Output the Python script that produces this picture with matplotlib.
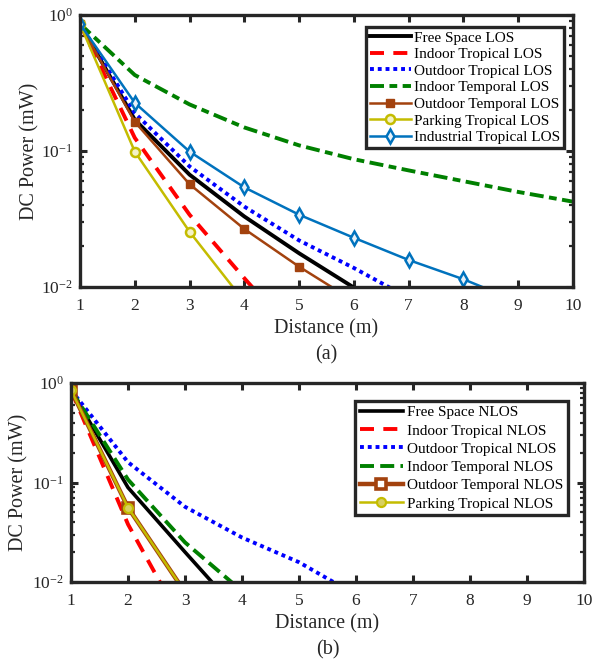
import matplotlib
matplotlib.use("Agg")
import matplotlib.pyplot as plt
from matplotlib.ticker import LogLocator, FixedLocator, NullFormatter

plt.rcParams['font.family'] = ['Liberation Serif', 'DejaVu Serif']
plt.rcParams['mathtext.fontset'] = 'custom'
plt.rcParams['mathtext.rm'] = 'Liberation Serif'
plt.rcParams['mathtext.it'] = 'Liberation Serif:italic'

# ---------------- data: panel (a) LOS ----------------
free_space_los_x = [1, 2, 3, 4, 5, 6, 7]
free_space_los = [0.86, 0.17, 0.067, 0.033, 0.0177, 0.0099, 0.0058]
indoor_trop_los_x = [1, 2, 3, 4, 5]
indoor_trop_los = [0.86, 0.125, 0.034, 0.0116, 0.0041]
outdoor_trop_los_x = [1, 2, 3, 4, 5, 6, 7]
outdoor_trop_los = [0.86, 0.19, 0.077, 0.039, 0.022, 0.0138, 0.0083]
indoor_temp_los_x = [1, 2, 3, 4, 5, 6, 7, 8, 9, 10]
indoor_temp_los = [0.86, 0.362, 0.22, 0.149, 0.11, 0.087, 0.072, 0.060, 0.050, 0.0424]
outdoor_temp_los_x = [1, 2, 3, 4, 5, 6]
outdoor_temp_los = [0.86, 0.164, 0.057, 0.0267, 0.0141, 0.0079]
parking_trop_los_x = [1, 2, 3, 4]
parking_trop_los = [0.86, 0.099, 0.0255, 0.0078]
industrial_trop_los_x = [1, 2, 3, 4, 5, 6, 7, 8, 9]
industrial_trop_los = [0.86, 0.226, 0.099, 0.054, 0.034, 0.023, 0.0158, 0.0114, 0.0078]

# ---------------- data: panel (b) NLOS ----------------
free_space_nlos_x = [1, 2, 3, 4]
free_space_nlos = [0.85, 0.089, 0.020, 0.0046]
indoor_trop_nlos_x = [1, 2, 3]
indoor_trop_nlos = [0.85, 0.038, 0.0035]
outdoor_trop_nlos_x = [1, 2, 3, 4, 5, 6]
outdoor_trop_nlos = [0.85, 0.16, 0.057, 0.028, 0.0158, 0.0074]
indoor_temp_nlos_x = [1, 2, 3, 4]
indoor_temp_nlos = [0.85, 0.107, 0.025, 0.0081]
outdoor_temp_nlos_x = [1, 2, 3]
outdoor_temp_nlos = [0.85, 0.056, 0.0079]
parking_trop_nlos_x = [1, 2, 3]
parking_trop_nlos = [0.85, 0.056, 0.0079]

x_ticks = [1, 2, 3, 4, 5, 6, 7, 8, 9, 10]
xlabel = 'Distance (m)'
ylabel = 'DC Power (mW)'

# ---------------- styles ----------------
C_BLACK = '#000000'
C_RED = '#FF0000'
C_BLUE = '#0000FF'
C_GREEN = '#008000'
C_BROWN = '#A3420E'
C_YELLOW = '#C4BC00'
C_IND = '#0072BD'
FRAME = '#262626'

LS_RED = (0, (3.6, 2.4))
LS_DOT = (0, (1.0, 1.0))
LS_GREEN = (0, (3.6, 1.4, 2.0, 1.4))

W, H = 600, 665
fig = plt.figure(figsize=(W / 100, H / 100), dpi=100)


def px_axes(l, r, t, b):
    return fig.add_axes([l / W, 1 - b / H, (r - l) / W, (b - t) / H])


def style_axes(ax, labelpad_y):
    ax.set_yscale('log')
    ax.set_xlim(1, 10)
    ax.set_ylim(1e-2, 1)
    ax.xaxis.set_major_locator(FixedLocator(x_ticks))
    ax.set_xticklabels([str(v) for v in x_ticks])
    ax.yaxis.set_major_locator(LogLocator(base=10, numticks=5))
    ax.yaxis.set_minor_locator(LogLocator(base=10, subs=range(2, 10), numticks=20))
    ax.yaxis.set_minor_formatter(NullFormatter())
    for s in ax.spines.values():
        s.set_linewidth(2.4)
        s.set_color(FRAME)
    ax.tick_params(which='major', direction='in', length=5, width=2.2, color=FRAME,
                   top=True, right=True, labelsize=12.5, labelcolor='#262626')
    ax.tick_params(which='minor', direction='in', length=3, width=1.6, color=FRAME,
                   top=True, right=True)
    ax.tick_params(axis='x', which='major', pad=8)
    ax.tick_params(axis='y', which='major', pad=5)
    ax.set_ylabel(ylabel, fontsize=14.5, color='#262626', labelpad=labelpad_y)
    ax.set_xlabel(xlabel, fontsize=14.5, color='#262626', labelpad=4)


# ---------------- panel (a) ----------------
ax1 = px_axes(80, 573, 15, 287)
ax1.plot(free_space_los_x, free_space_los, color=C_BLACK, lw=2.8, label='Free Space LOS')
ax1.plot(indoor_trop_los_x, indoor_trop_los, color=C_RED, lw=2.8, ls=LS_RED, label='Indoor Tropical LOS')
ax1.plot(outdoor_trop_los_x, outdoor_trop_los, color=C_BLUE, lw=2.8, ls=LS_DOT, label='Outdoor Tropical LOS')
ax1.plot(indoor_temp_los_x, indoor_temp_los, color=C_GREEN, lw=2.8, ls=LS_GREEN, label='Indoor Temporal LOS')
ax1.plot(outdoor_temp_los_x, outdoor_temp_los, color=C_BROWN, lw=1.8, marker='s', ms=5.5,
         mfc=C_BROWN, mec=C_BROWN, label='Outdoor Temporal LOS')
ax1.plot(parking_trop_los_x, parking_trop_los, color=C_YELLOW, lw=1.8, marker='o', ms=6.5,
         mfc='#F4F2C8', mec=C_YELLOW, mew=1.8, label='Parking Tropical LOS')
ax1.plot(industrial_trop_los_x, industrial_trop_los, color=C_IND, lw=1.8, marker='d', ms=7.5,
         mfc='#E8F1F8', mec=C_IND, mew=1.8, label='Industrial Tropical LOS')
style_axes(ax1, 1)
leg1 = ax1.legend(loc='upper right', bbox_to_anchor=((564 - 80) / 493, 1 - (27 - 15) / 272),
                  fontsize=11, frameon=True, fancybox=False, handlelength=2.7,
                  handletextpad=0.2, borderpad=0.25, labelspacing=0.19, borderaxespad=0)
leg1.get_frame().set_edgecolor(FRAME)
leg1.get_frame().set_linewidth(2.4)
leg1.get_frame().set_alpha(1)
fig.text(326.5 / W, 1 - 355 / H, '(a)', ha='center', va='center', fontsize=14.5, color='#262626')

# ---------------- panel (b) ----------------
ax2 = px_axes(71, 584, 383, 582)
ax2.plot(free_space_nlos_x, free_space_nlos, color=C_BLACK, lw=2.6, label='Free Space NLOS')
ax2.plot(indoor_trop_nlos_x, indoor_trop_nlos, color=C_RED, lw=2.8, ls=LS_RED, label='Indoor Tropical NLOS')
ax2.plot(outdoor_trop_nlos_x, outdoor_trop_nlos, color=C_BLUE, lw=2.8, ls=LS_DOT, label='Outdoor Tropical NLOS')
ax2.plot(indoor_temp_nlos_x, indoor_temp_nlos, color=C_GREEN, lw=2.8, ls=(0, (3.6, 1.6)), label='Indoor Temporal NLOS')
ax2.plot(outdoor_temp_nlos_x, outdoor_temp_nlos, color=C_BROWN, lw=3.2, marker='s', ms=6.5,
         mfc='white', mec=C_BROWN, mew=2.6, label='Outdoor Temporal NLOS')
ax2.plot(parking_trop_nlos_x, parking_trop_nlos, color=C_YELLOW, lw=1.8, marker='o', ms=6.5,
         mfc='#D8D060', mec=C_YELLOW, mew=1.6, label='Parking Tropical NLOS')
style_axes(ax2, 3)
leg2 = ax2.legend(loc='upper right', bbox_to_anchor=((568 - 71) / 513, 1 - (401 - 383) / 199),
                  fontsize=11, frameon=True, fancybox=False, handlelength=2.8,
                  handletextpad=0.3, borderpad=0.3, labelspacing=0.3, borderaxespad=0)
leg2.get_frame().set_edgecolor(FRAME)
leg2.get_frame().set_linewidth(2.4)
leg2.get_frame().set_alpha(1)
fig.text(327.5 / W, 1 - 650 / H, '(b)', ha='center', va='center', fontsize=14.5, color='#262626')

fig.savefig('out.png', dpi=100)
